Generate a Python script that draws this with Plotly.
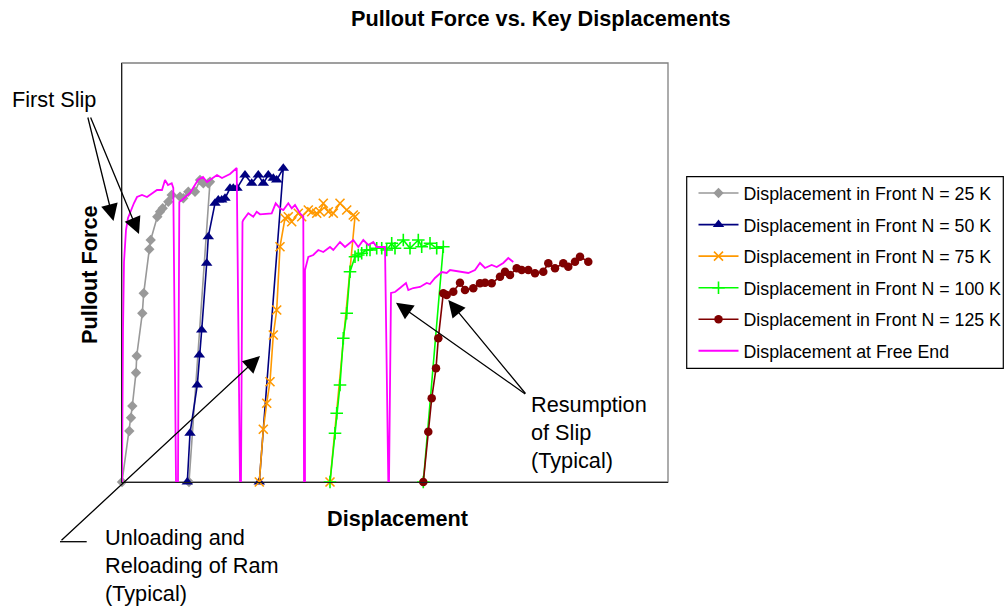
import plotly.graph_objects as go

# Readings (arbitrary displacement / force units, no ticks shown)
x_25k = [0, 7.3, 9, 10.3, 14, 14.7, 20.3, 21.7, 27.3, 28.7, 35.3, 38, 40.7, 46.3, 49.7, 58, 61.3,
         66.3, 73, 78, 81.3, 86.3, 88, 67]
y_25k = [0, 51, 64.3, 76, 109.3, 126, 168.7, 188.7, 232.7, 242, 265.3, 270.3, 273.7, 280.3, 287,
         285.3, 283.7, 290.3, 290.3, 302, 298.7, 298.7, 300.3, 0]

x_50k = [65.3, 68, 75.3, 77.3, 79.7, 84.7, 86.3, 93, 96.3, 99.7, 103, 108, 111.3, 115, 123, 129.7,
         136.3, 141.3, 146.3, 151.3, 154.7, 161.3, 137.3]
y_50k = [0, 48.7, 97, 127, 152, 218.7, 245.3, 278.7, 282, 282, 283.7, 293.7, 293.7, 293.7, 307,
         298.7, 307, 298.7, 307, 303.7, 302, 313.7, 0]

x_75k = [137.3, 141.3, 144.7, 148, 151.3, 154.7, 158, 163, 166.3, 169.7, 176.3, 179.7, 186.3, 189.7,
         194.7, 198, 201.3, 206.3, 211.3, 218, 224.7, 231.3, 233, 208]
y_75k = [0, 52.7, 78.7, 100.3, 147, 172, 235.3, 263.7, 265.3, 260.3, 268.7, 265.3, 272, 270.3,
         268.7, 270.3, 278.7, 270.3, 268.7, 278.7, 272, 267, 265.3, 0]

x_100k = [208, 213, 214.7, 218, 221.3, 224.7, 228, 233, 236.3, 239.7, 244.7, 248, 254.7, 259.7,
          264.7, 269.7, 273, 281.3, 288, 296.3, 299.7, 308, 314.7, 321.3, 301.3]
y_100k = [0, 48.7, 68.7, 97, 143.7, 168.7, 210.3, 225.3, 227, 228.7, 232, 232, 233.7, 233.7, 232,
          238.7, 233.7, 242, 233.7, 242, 235.3, 238.7, 233.7, 235.3, 0]

x_125k = [301.3, 306.3, 309.7, 314, 316.3, 321.3, 324.7, 331.3, 338, 343, 351.3, 358, 363, 369.7,
          378, 383, 388, 394.7, 399.7, 406.3, 413, 421.3, 426.3, 433, 441.3, 446.3, 453, 458, 466.3]
y_125k = [0, 50.3, 83.7, 113.7, 143.7, 188.7, 187, 190.3, 199.3, 192, 193.7, 198.7, 199.3, 198.7,
          205.3, 210.3, 207, 213.7, 212, 212, 208.7, 210.3, 218.7, 213.7, 218.7, 215.3, 220.3,
          225.3, 220.3]

# free end: five load cycles, each dropping back to zero when the ram is unloaded
x_free = [0, 0.3, 1, 2, 4, 6, 9, 12, 15, 20, 25, 31, 35, 40, 43, 46, 49.7, 51.3, 54,
          56, 56.5, 57.3, 60, 68, 76, 81, 85, 95, 100, 108, 114.7, 118,
          119, 120, 120.5, 121.3, 126.3, 131.3, 134.7, 138, 144.7, 149.7, 153.7, 158, 161.3,
          166.3, 169.7, 173, 178, 181.3, 182,
          183, 183, 186.3, 191.3, 196.3, 201.3, 208, 211.3, 218, 223, 231.3, 236.3, 241.3, 246.3,
          251.3, 254.7, 263, 266.3,
          267, 269, 273, 278, 284, 286.3, 291.3, 298, 304.7, 308, 313, 319.7, 324.7, 328, 338,
          346.3, 353, 358, 363, 369.7, 374.7, 381.3, 386.3, 391.3]
y_free = [0, 82, 152, 220, 252, 264, 272, 279, 285, 287, 285, 289, 292, 292, 302, 297, 298.7, 294, 0,
          0, 160, 280, 282, 289, 302, 305, 300, 307, 304, 308, 314, 0,
          0, 182, 260, 262, 268.7, 265.3, 270.3, 267.7, 268.7, 268.7, 278.7, 273.7, 272,
          278.7, 273.7, 277, 268.7, 265.3, 0,
          0, 212, 225, 227, 232, 230, 235, 232, 240, 235, 242, 235, 242, 237,
          240, 235, 235, 0,
          0, 189, 190, 194, 199, 192, 194, 195, 199, 198, 204, 210, 209, 212, 210,
          209, 212, 219, 214, 217, 215, 219, 224, 220]

X_MAX, Y_MAX = 546, 419

W, H = 1005, 606
L, R, T, B = 122, 337, 63, 124
PW, PH = W - L - R, H - T - B

FONT = "Arial, Liberation Sans, sans-serif"


def paper(px, py):
    # page pixel -> paper coordinates (used only for annotation placement)
    return (px - L) / PW, (H - B - py) / PH


series = [
    ("Displacement in Front N = 25 K", x_25k, y_25k, "#999999",
     dict(symbol="diamond", size=8, color="#999999")),
    ("Displacement in Front N = 50 K", x_50k, y_50k, "#000080",
     dict(symbol="triangle-up", size=10, color="#000080")),
    ("Displacement in Front N = 75 K", x_75k, y_75k, "#FF9900",
     dict(symbol="x-thin", size=9, line=dict(width=1.6, color="#FF9900"))),
    ("Displacement in Front N = 100 K", x_100k, y_100k, "#00FF00",
     dict(symbol="cross-thin", size=9, line=dict(width=1.6, color="#00FF00"))),
    ("Displacement in Front N = 125 K", x_125k, y_125k, "#800000",
     dict(symbol="circle", size=8.5, color="#800000")),
]

fig = go.Figure()
for i, (name, xs, ys, col, mk) in enumerate(series):
    fig.add_trace(go.Scatter(
        x=xs, y=ys, name=name, mode="lines+markers",
        line=dict(color=col, width=1.6), marker=mk,
        cliponaxis=False, legendgroup=str(i),
    ))

fig.add_trace(go.Scatter(
    x=x_free, y=y_free, name="Displacement at Free End", mode="lines",
    line=dict(color="#FF00FF", width=1.8), cliponaxis=False, legendgroup="5",
))


def arrow(tip, tail):
    x, y = paper(*tip)
    return dict(xref="paper", yref="paper", x=x, y=y, axref="pixel", ayref="pixel",
                ax=tail[0] - tip[0], ay=tail[1] - tip[1], text="", showarrow=True,
                arrowhead=2, arrowsize=2.6, arrowwidth=1.3, arrowcolor="black")


def label(px, py, text, anchor="left", size=21.7, bold=False, angle=0):
    x, y = paper(px, py)
    if bold:
        text = "<b>" + text + "</b>"
    return dict(xref="paper", yref="paper", x=x, y=y, xanchor=anchor, yanchor="middle",
                align="left", text=text, showarrow=False, textangle=angle,
                font=dict(family=FONT, size=size, color="black"))


annotations = [
    label(540.5, 18, "Pullout Force vs. Key Displacements", anchor="center", bold=True),
    label(397.5, 518, "Displacement", anchor="center", bold=True),
    label(89, 275, "Pullout Force", anchor="center", bold=True, angle=-90),
    label(10, 99, "First Slip"),
    label(103, 565, "Unloading and<br>Reloading of Ram<br>(Typical)"),
    label(529, 432, "Resumption<br>of Slip<br>(Typical)"),
    arrow((113.5, 221), (87.5, 116)),
    arrow((139, 234), (90, 116)),
    arrow((260, 356), (60, 541.7)),
    arrow((396, 302.7), (526.7, 395)),
    arrow((448.3, 300), (526.7, 395)),
]

x0, y0 = paper(60, 541.7)
x1, _ = paper(86.7, 541.7)
bx0, by0 = paper(686.7, 368.3)
bx1, by1 = paper(1003.3, 176.7)
shapes = [
    dict(type="rect", xref="paper", yref="paper", x0=0, y0=0, x1=1, y1=1,
         line=dict(color="#808080", width=1.3), layer="below"),
    dict(type="line", xref="paper", yref="paper", x0=x0, y0=y0, x1=x1, y1=y0,
         line=dict(color="black", width=1.3)),
    # legend frame
    dict(type="rect", xref="paper", yref="paper", x0=bx0, y0=by0, x1=bx1, y1=by1,
         line=dict(color="black", width=1.2), layer="below"),
]

lx, ly = paper(693.5, 175)
fig.update_layout(
    width=W, height=H, autosize=False,
    margin=dict(l=L, r=R, t=T, b=B, pad=0, autoexpand=False),
    paper_bgcolor="white", plot_bgcolor="white",
    font=dict(family=FONT, color="black"),
    showlegend=True,
    legend=dict(x=lx, y=ly, xanchor="left", yanchor="top",
                borderwidth=0, bgcolor="rgba(0,0,0,0)",
                font=dict(family=FONT, size=17.8, color="black"),
                tracegroupgap=5.4, itemwidth=40),
    annotations=annotations,
    shapes=shapes,
)
fig.update_xaxes(range=[0, X_MAX], showticklabels=False, showgrid=False, zeroline=False,
                 showline=True, linecolor="#202020", linewidth=1.3, ticks="")
fig.update_yaxes(range=[0, Y_MAX], showticklabels=False, showgrid=False, zeroline=False,
                 showline=True, linecolor="#202020", linewidth=1.3, ticks="")

# the page body has a default 8px margin; drop it so the figure sits at the window origin
fig.write_html(
    "out.html",
    config={"responsive": False, "displayModeBar": False},
    post_script="document.body.style.margin='0';document.body.style.overflow='hidden';",
)
